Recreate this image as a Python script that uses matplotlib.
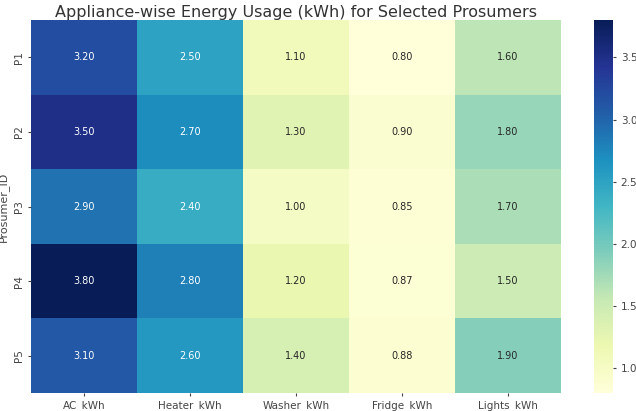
import matplotlib
matplotlib.use("Agg")
import matplotlib.pyplot as plt
import numpy as np
import pandas as pd
import seaborn as sns

prosumers = ["P1", "P2", "P3", "P4", "P5"]
appliances = ["AC_kWh", "Heater_kWh", "Washer_kWh", "Fridge_kWh", "Lights_kWh"]
ac = [3.2, 3.5, 2.9, 3.8, 3.1]
heater = [2.5, 2.7, 2.4, 2.8, 2.6]
washer = [1.1, 1.3, 1.0, 1.2, 1.4]
fridge = [0.8, 0.9, 0.85, 0.87, 0.88]
lights = [1.6, 1.8, 1.7, 1.5, 1.9]

df = pd.DataFrame(dict(zip(appliances, [ac, heater, washer, fridge, lights])),
                  index=pd.Index(prosumers, name="Prosumer_ID"))

plt.rcParams['font.family'] = ['DejaVu Sans']
fig = plt.figure(figsize=(6.36, 4.11), dpi=100)
ax = fig.add_axes([0.049, 0.044, 0.833, 0.907])
cax = fig.add_axes([0.934, 0.044, 0.030, 0.907])
sns.heatmap(df, annot=True, fmt=".2f", cmap="YlGnBu", ax=ax, cbar_ax=cax,
            annot_kws={"size": 7})
ax.set_title("Appliance-wise Energy Usage (kWh) for Selected Prosumers",
             fontsize=11.5, color="#333333", pad=2)
ax.set_xlabel("")
ax.set_ylabel("Prosumer_ID", fontsize=8, color="#444444", labelpad=3)
ax.tick_params(axis="both", labelsize=7.5, colors="#444444", length=2)
cax.tick_params(labelsize=7.5, colors="#444444", length=2)
fig.savefig("out.png", dpi=100)
